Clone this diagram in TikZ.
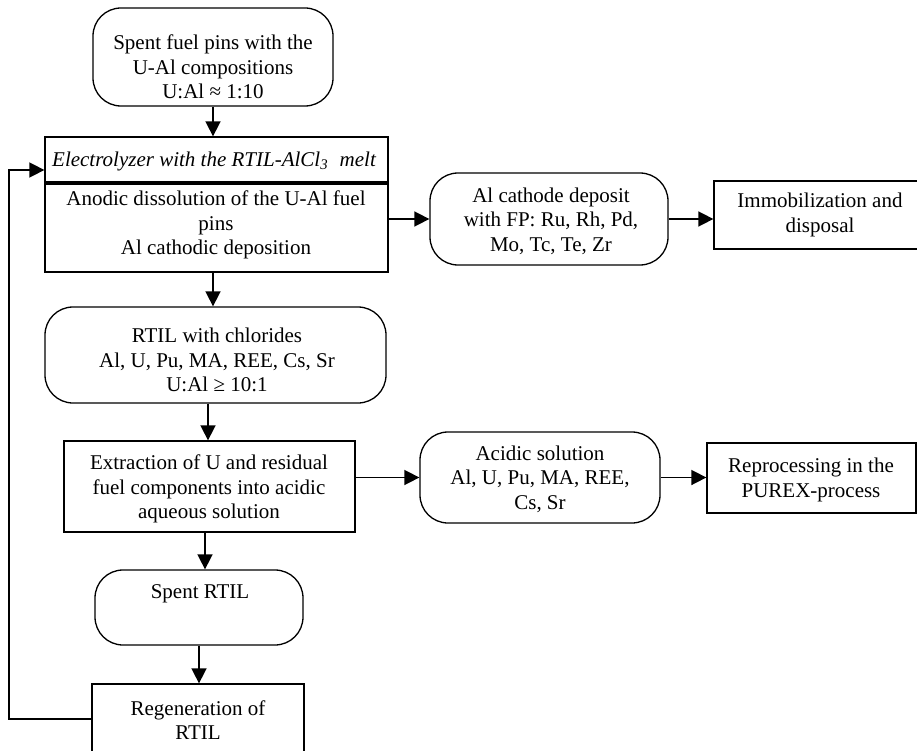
\documentclass[tikz,border=0pt]{standalone}
\usepackage{fontspec}
\setmainfont{Liberation Serif}
\usetikzlibrary{arrows.meta}
\begin{document}
\begin{tikzpicture}[x=1pt,y=-1pt,
  box/.style={draw, line width=1.3pt, inner sep=0pt},
  rbox/.style={box, rounded corners=28pt},
  txt/.style={align=center, inner sep=0pt, font=\fontsize{21}{24.5}\selectfont},
  arr/.style={line width=1.6pt, -{Triangle[length=15pt,width=15pt]}}]
\useasboundingbox (0,0) rectangle (917,751);
\clip (0,0) rectangle (917,751);

% boxes
\node[rbox, minimum width=240pt, minimum height=98pt] (fuel) at (213,57) {};
\node[box, minimum width=343pt, minimum height=135pt] (el) at (216.5,204.5) {};
\node[rbox, minimum width=238pt, minimum height=92pt] (cath) at (549,219) {};
\node[box, minimum width=216pt, minimum height=68pt] (immob) at (822,215) {};
\node[rbox, minimum width=341pt, minimum height=96pt] (rtil) at (215.5,355) {};
\node[box, minimum width=291pt, minimum height=91pt] (extr) at (209.5,486.5) {};
\node[rbox, minimum width=240pt, minimum height=91pt] (acid) at (540,477.5) {};
\node[box, minimum width=209pt, minimum height=70pt] (repro) at (811.5,478) {};
\node[rbox, minimum width=208pt, minimum height=75pt] (spent) at (199,607.5) {};
\node[box, minimum width=212pt, minimum height=70pt] (regen) at (198,719) {};

% separator in electrolyzer
\coordinate (sep) at (0,183);
\draw[line width=4pt] (el.west |- sep) -- (el.east |- sep);

% texts
\node[txt] (fuelT) at (213,67) {Spent fuel pins with the\\U-Al compositions\\U:Al ≈ 1:10};
\node[txt, font=\fontsize{21}{24.5}\selectfont\itshape] (elT) at (214,161) {Electrolyzer with the RTIL-AlCl\textsubscript{3}\hspace{0.55em}melt};
\node[txt] (elB) at (216,225) {Anodic dissolution of the U-Al fuel\\pins\\Al cathodic deposition};
\node[txt] (cathT) at (551,221) {Al cathode deposit\\with FP: Ru, Rh, Pd,\\Mo, Tc, Te, Zr};
\node[txt] (immobT) at (820,215) {Immobilization and\\disposal};
\node[txt] (rtilT) at (217,360) {RTIL with chlorides\\Al, U, Pu, MA, REE, Cs, Sr\\U:Al ≥ 10:1};
\node[txt] (extrT) at (209,489) {Extraction of U and residual\\fuel components into acidic\\aqueous solution};
\node[txt] (acidT) at (540,479) {Acidic solution\\Al, U, Pu, MA, REE,\\Cs, Sr};
\node[txt] (reproT) at (811,480) {Reprocessing in the\\PUREX-process};
\node[txt] (spentT) at (200,594) {Spent RTIL};
\node[txt] (regenT) at (198,720) {Regeneration of\\RTIL};

% connectors
\draw[arr] (fuel.south) -- (fuel.south |- el.north);
\draw[arr] ([xshift=-3.5pt]el.south) -- ([xshift=-3.5pt]el.south |- rtil.north);
\draw[arr] ([xshift=-7.5pt]rtil.south) -- ([xshift=-7.5pt]rtil.south |- extr.north);
\draw[arr] ([xshift=-4.5pt]extr.south) -- ([xshift=-4.5pt]extr.south |- spent.north);
\draw[arr] (spent.south) -- (spent.south |- regen.north);
\draw[arr] (el.east |- cath.west) -- (cath.west);
\draw[arr] (cath.east) -- (cath.east -| immob.west);
\draw[arr] (extr.east |- acid.west) -- (acid.west);
\draw[arr] (acid.east) -- (acid.east -| repro.west);
\coordinate (fb) at (9,719);
\draw[arr] (regen.west) -- (fb) |- ([yshift=34.5pt]el.west);
\end{tikzpicture}
\end{document}
